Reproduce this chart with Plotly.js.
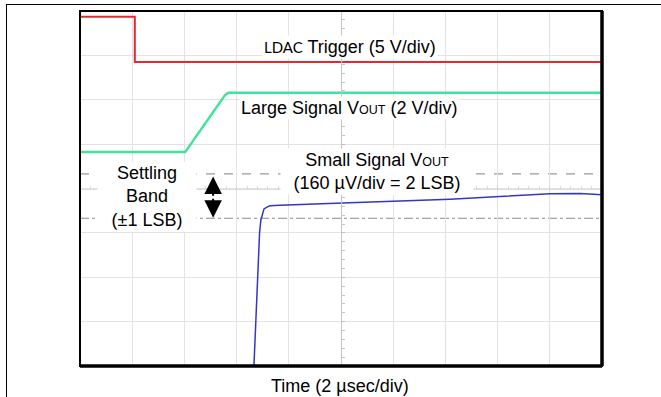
<!DOCTYPE html>
<html><head><meta charset="utf-8">
<script src="https://cdn.plot.ly/plotly-3.0.1.min.js"></script>
<style>
html,body{margin:0;padding:0;background:#fff;}
#wrap{position:relative;width:661px;height:397px;overflow:hidden;}
#chart{position:absolute;left:0;top:0;width:661px;height:397px;}
#frame{position:absolute;left:6px;top:4px;width:700px;height:500px;border-top:1px solid #000;border-left:1px solid #000;pointer-events:none;}
</style></head><body>
<div id="wrap"><div id="chart"></div><div id="frame"></div></div>
<script>
// Horizontal: time in µs (2 µs/div, 10 div). Vertical: screen divisions (±4 div).
const ldacTime  = [0, 2.1, 2.1, 20];
const ldacDiv   = [3.87, 3.87, 2.85, 2.85];

const largeTime = [0, 4.03, 5.55, 5.68, 20];
const largeDiv  = [0.82, 0.82, 2.10, 2.16, 2.16];

const smallTime = [6.66, 6.74, 6.80, 6.88, 6.93, 6.99, 7.05, 7.16, 7.28, 7.66, 8.43, 9.20, 10.34, 12.26, 14.18, 16.09, 18.01, 19.16, 20];
const smallDiv  = [-4.05, -3.01, -2.02, -1.00, -0.71, -0.55, -0.46, -0.42, -0.39, -0.38, -0.36, -0.35, -0.32, -0.28, -0.24, -0.18, -0.12, -0.11, -0.14];

const settlingBand = [-0.67, 0.33];   // ±1 LSB band (lower, upper)
const arrowTime = 5.1;
const arrowEnds = [-0.66, 0.27];

const FONT = 'Liberation Sans, Arial, sans-serif';

const traces = [
  {x: ldacTime, y: ldacDiv, mode: 'lines', line: {color: '#e8282e', width: 2}, hoverinfo: 'skip'},
  {x: largeTime, y: largeDiv, mode: 'lines', line: {color: '#40e39c', width: 2.5}, hoverinfo: 'skip'},
  {x: smallTime, y: smallDiv, mode: 'lines', line: {color: '#3535c8', width: 1.5}, hoverinfo: 'skip'}
];

const mid = (settlingBand[0] + settlingBand[1]) / 2;
const arrowMid = (arrowEnds[0] + arrowEnds[1]) / 2;

const layout = {
  width: 661, height: 397,
  margin: {l: 80, r: 59, t: 11, b: 31, pad: 0},
  paper_bgcolor: '#fff', plot_bgcolor: '#fff',
  showlegend: false,
  font: {family: FONT, size: 18, color: '#000'},
  xaxis: {
    range: [0, 20], dtick: 2, showgrid: true, gridcolor: '#e3e3e3', gridwidth: 1,
    zeroline: false, showticklabels: false,
    anchor: 'free', position: 0.5,
    showline: true, linecolor: '#dcdcdc', linewidth: 1,
    ticks: 'inside', ticklen: 3, tickcolor: '#d0d0d0',
    minor: {dtick: 0.4, ticks: 'inside', ticklen: 3, tickcolor: '#d8d8d8', showgrid: false}
  },
  yaxis: {
    range: [-4, 4], dtick: 1, showgrid: true, gridcolor: '#e3e3e3', gridwidth: 1,
    zeroline: false, showticklabels: false,
    anchor: 'free', position: 0.5,
    showline: true, linecolor: '#c4c4c4', linewidth: 1,
    ticks: 'inside', ticklen: 3, tickcolor: '#bdbdbd',
    minor: {dtick: 0.2, ticks: 'inside', ticklen: 3, tickcolor: '#c4c4c4', showgrid: false}
  },
  shapes: [
    {type: 'line', xref: 'paper', x0: 0, x1: 1, yref: 'y', y0: settlingBand[1], y1: settlingBand[1],
     line: {color: '#999', width: 1.3, dash: 'dash'}, layer: 'below'},
    {type: 'line', xref: 'paper', x0: 0, x1: 1, yref: 'y', y0: settlingBand[0], y1: settlingBand[0],
     line: {color: '#8c8c8c', width: 1.2, dash: 'dashdot'}, layer: 'below'},
    {type: 'rect', xref: 'paper', yref: 'paper', x0: 0, x1: 1, y0: 0, y1: 1,
     line: {color: '#000', width: 2}, layer: 'above'},
    {type: 'line', xref: 'paper', yref: 'paper', x0: 1, x1: 1, y0: 0, y1: 1,
     line: {color: '#000', width: 3.5}, layer: 'above'},
    {type: 'line', xref: 'paper', yref: 'paper', x0: 0, x1: 1, y0: 0, y1: 0,
     line: {color: '#000', width: 3.5}, layer: 'above'}
  ],
  annotations: [
    {xref: 'x', yref: 'y', x: 10.36, y: 3.2, showarrow: false, bgcolor: '#fff',
     text: '<span style="font-family:Lato;font-size:15px">LDAC</span> Trigger (5 V/div)'},
    {xref: 'x', yref: 'y', x: 10.34, y: 1.81, showarrow: false, bgcolor: '#fff',
     text: 'Large Signal V<span style="font-size:12.5px">OUT</span> (2 V/div)'},
    {xref: 'x', yref: 'y', x: 11.38, y: 0.39, showarrow: false, bgcolor: '#fff', width: 190,
     text: 'Small Signal V<span style="font-size:12.5px">OUT</span><br>(160 µV/div = 2 LSB)'},
    {xref: 'x', yref: 'y', x: 2.55, y: mid, showarrow: false, bgcolor: '#fff', width: 96,
     text: 'Settling<br>Band<br>(±1 LSB)'},
    {xref: 'x', yref: 'y', x: arrowTime, y: arrowEnds[1], axref: 'x', ayref: 'y', ax: arrowTime, ay: arrowMid,
     text: '', showarrow: true, arrowhead: 2, arrowsize: 1.75, arrowwidth: 2, arrowcolor: '#000', standoff: 0, startstandoff: 0},
    {xref: 'x', yref: 'y', x: arrowTime, y: arrowEnds[0], axref: 'x', ayref: 'y', ax: arrowTime, ay: arrowMid,
     text: '', showarrow: true, arrowhead: 2, arrowsize: 1.75, arrowwidth: 2, arrowcolor: '#000', standoff: 0, startstandoff: 0},
    {xref: 'paper', yref: 'paper', x: 0.498, y: -0.056, yanchor: 'middle', showarrow: false,
     text: 'Time (2 µsec/div)'}
  ]
};

Plotly.newPlot('chart', traces, layout, {staticPlot: true, displayModeBar: false});
</script>
</body></html>
